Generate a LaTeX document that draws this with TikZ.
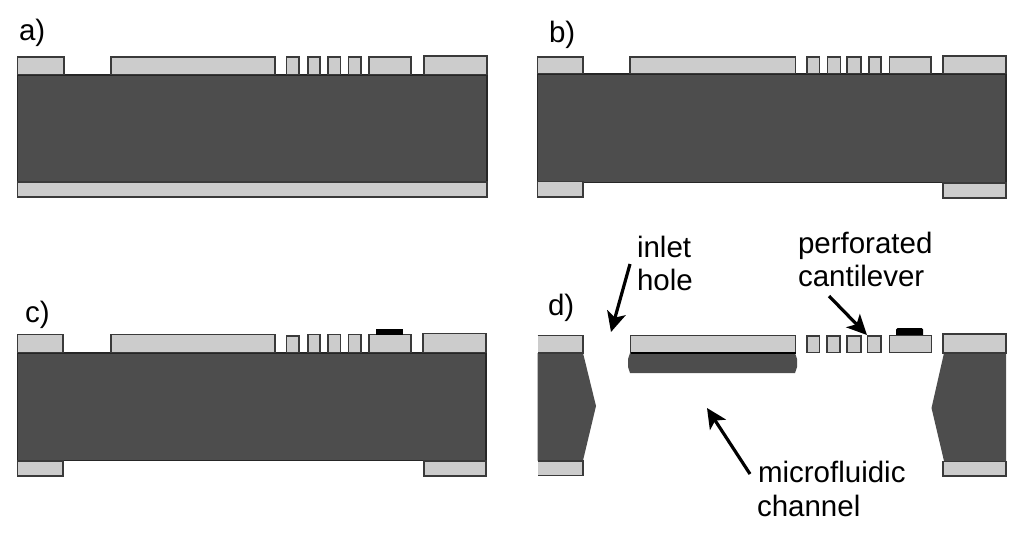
\documentclass[tikz,border=0pt]{standalone}
\usepackage{fontspec}
\setmainfont{Liberation Sans}
\usetikzlibrary{arrows.meta}
\definecolor{darkfill}{HTML}{4D4D4D}
\definecolor{lightfill}{HTML}{CCCCCC}
\definecolor{edgecol}{HTML}{3A3A3A}
\tikzset{
  layer/.style={fill=lightfill,draw=edgecol,line width=1.3pt},
  bulk/.style={fill=darkfill,draw=black!85,line width=1.2pt},
  etched/.style={fill=darkfill,draw=none},
  metal/.style={fill=black,draw=none},
  lbl/.style={anchor=base west,inner sep=0pt,outer sep=0pt,font=\fontsize{29.5}{34}\selectfont,text=black},
  pointer/.style={draw=black,line width=3.2pt,-{Stealth[length=20pt,width=19pt,inset=5pt]}}
}
\begin{document}
\begin{tikzpicture}[x=1pt,y=-1pt]
\useasboundingbox (0,0) rectangle (1024,533);
% ---------- a
\draw[bulk] (17.5,75) rectangle (487,181.5);
\draw[layer] (17.5,182) rectangle (487,197);
\foreach \xa/\xb in {17.5/64,111/275,286.5/299,308/320,328/340.5,348.5/361,369/411}
  \draw[layer] (\xa,57) rectangle (\xb,74.7);
\draw[layer] (424,56) rectangle (487,74.7);
\node[lbl] (la) at (19,40.5) {a)};
% ---------- b
\draw[bulk] (537.5,74) rectangle (1006,182.5);
\foreach \xa/\xb in {537.5/583,630/795.5,807/819.5,827.5/840.5,847/861,869/881,889.5/931}
  \draw[layer] (\xa,57) rectangle (\xb,73.5);
\draw[layer] (943,56) rectangle (1006,73.5);
\draw[layer] (537.5,181.5) rectangle (583,197);
\draw[layer] (943,183) rectangle (1006,198);
\node[lbl] (lb) at (549,42.7) {b)};
% ---------- c
\draw[bulk] (17.5,353) rectangle (486,460.5);
\foreach \xa/\xb in {17.5/63,111/275,308/320,328/340.5,348.5/361,369/411}
  \draw[layer] (\xa,334.5) rectangle (\xb,352.5);
\draw[layer] (286.5,336) rectangle (299,352.5);
\draw[layer] (423,333.5) rectangle (486,352.5);
\fill[metal] (376,328.5) rectangle (403,335);
\draw[layer] (17.5,461) rectangle (63,476);
\draw[layer] (424,461) rectangle (486,476);
\node[lbl] (lc) at (25,322.7) {c)};
% ---------- d
\fill[etched] (537.5,353) -- (583,353) -- (596,406) -- (583,460.5) -- (537.5,460.5) -- cycle;
\fill[etched] (630,353) -- (795,353) -- (797,359) -- (797,367) -- (795,373) -- (630,373) -- (628,367) -- (628,359) -- cycle;
\fill[etched] (1006,353) -- (944,353) -- (931.5,408) -- (944,461) -- (1006,461) -- cycle;
\fill[lightfill] (537.5,335.5) rectangle (583,353);
\draw[edgecol,line width=1.3pt] (537.5,335.5) -- (583,335.5) -- (583,353) -- (537.5,353);
\draw[layer] (630.5,335.5) rectangle (795.5,352.5);
\draw[black,line width=1.3pt] (630.5,353) -- (795.5,353);
\foreach \xa/\xb in {807/819.5,827/840,847/861,867.5/881}
  \draw[layer] (\xa,336) rectangle (\xb,352.5);
\fill[metal,rounded corners=1.5pt] (896,337) -- (896,328) -- (923,328) -- (923,337) -- cycle;
\draw[layer] (889.5,335.5) rectangle (931.5,352.5);
\draw[layer] (943,334) rectangle (1006,353);
\fill[lightfill] (537.5,461) rectangle (583,475.5);
\draw[edgecol,line width=1.3pt] (537.5,461) -- (583,461) -- (583,475.5) -- (537.5,475.5);
\draw[layer] (943,461.5) rectangle (1006,476);
\node[lbl] (ld) at (548,315) {d)};
% ---------- callouts
\node[lbl] (inlet) at (637,257) {inlet};
\node[lbl] (hole) at (637,290.7) {hole};
\node[lbl] (perf) at (798,253) {perforated};
\node[lbl] (cant) at (798,286.7) {cantilever};
\node[lbl] (micro) at (758,482) {microfluidic};
\node[lbl] (chan) at (757,516) {channel};
\coordinate (inletfrom) at (630,264);
\coordinate (inletto) at (611,332);
\coordinate (perffrom) at (829,296);
\coordinate (perfto) at (867,335);
\coordinate (microfrom) at (750,474);
\coordinate (microto) at (707,408);
\draw[pointer] (inletfrom) -- (inletto);
\draw[pointer] (perffrom) -- (perfto);
\draw[pointer] (microfrom) -- (microto);
\end{tikzpicture}
\end{document}
